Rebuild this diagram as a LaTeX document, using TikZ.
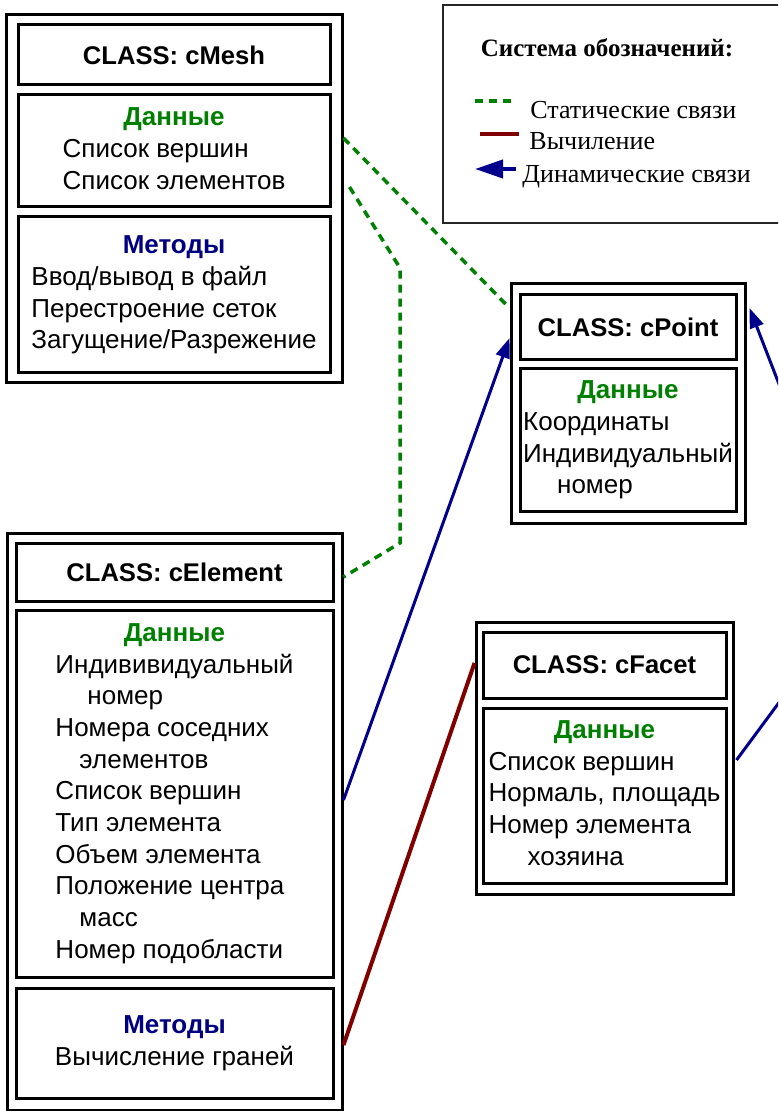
\documentclass[tikz,border=0pt]{standalone}
\usepackage{fontspec}
\setmainfont{Liberation Sans}
\newfontfamily\legendfont{Liberation Serif}
\usetikzlibrary{arrows.meta}

\definecolor{datagreen}{RGB}{0,128,0}
\definecolor{methblue}{RGB}{0,0,128}
\definecolor{calcred}{RGB}{128,0,0}
\definecolor{linkblue}{RGB}{0,0,140}

% title line centred, member lines flush left under it
\newcommand{\memberlist}[3]{\begin{tabular}{@{}l@{}}\multicolumn{1}{@{}c@{}}{\textbf{\color{#2}#1}}\\#3\end{tabular}}

\begin{document}
\begin{tikzpicture}[x=0.5pt,y=-0.5pt,
    classbox/.style={draw, line width=1.5pt, inner sep=0pt},
    part/.style={draw, line width=1.5pt, inner sep=0pt, font=\fontsize{13}{15.85}\selectfont},
    headpart/.style={part, font=\fontsize{12.8}{15}\selectfont\bfseries},
    legtext/.style={inner sep=0pt, anchor=west, font=\legendfont\fontsize{13}{15}\selectfont},
    staticlink/.style={datagreen, line width=1.75pt, dash pattern=on 4pt off 3pt},
    calclink/.style={calcred, line width=2pt},
    dynlink/.style={linkblue, line width=1.5pt, -{Triangle[length=10pt,width=7pt]}}]
    \useasboundingbox (0,0) rectangle (778,1111);
    \clip (0,0) rectangle (778,1111);

    % legend
    \node[draw=black!85, line width=0.6pt, minimum width=176pt, minimum height=109pt] (legend) at (619,114) {};
    \node[inner sep=0pt, font=\legendfont\fontsize{12.5}{15}\selectfont\bfseries] (legtitle) at (607,48) {Система обозначений:};
    \draw[staticlink] (475,101) -- (512,101);
    \node[legtext] (legstatic) at (530,110) {Статические связи};
    \draw[calclink] (480,134) -- (519,134);
    \node[legtext] (legcalc) at (529,141) {Вычиление};
    \draw[linkblue, line width=2pt, -{Triangle[length=14pt,width=9pt]}] (516,169) -- (475,169);
    \node[legtext] (legdyn) at (522,177) {Динамические связи};

    % cMesh
    \node[classbox, minimum width=168pt, minimum height=184pt] (mesh) at (174,199) {};
    \node[headpart, minimum width=156pt, minimum height=30pt] (meshhead) at (174,55) {CLASS: cMesh};
    \node[part, minimum width=156pt, minimum height=56pt] (meshdata) at (174,151)
        {\memberlist{Данные}{datagreen}{Список вершин\\Список элементов}};
    \node[part, minimum width=156pt, minimum height=78pt] (meshmeth) at (174,295)
        {\memberlist{Методы}{methblue}{Ввод/вывод в файл\\Перестроение сеток\\Загущение/Разрежение}};

    % cElement
    \node[classbox, minimum width=167.5pt, minimum height=288.5pt] (elem) at (174.5,821.5) {};
    \node[headpart, minimum width=158.5pt, minimum height=29pt] (elemhead) at (174.5,572) {CLASS: cElement};
    \node[part, minimum width=158.5pt, minimum height=183.5pt] (elemdata) at (174.5,793.5)
        {\memberlist{Данные}{datagreen}{Индививидуальный\\\hspace*{16pt}номер\\Номера соседних\\\hspace*{12pt}элементов\\Список вершин\\Тип элемента\\Объем элемента\\Положение центра\\\hspace*{12pt}масс\\Номер подобласти}};
    \node[part, minimum width=158.5pt, minimum height=55pt] (elemmeth) at (174.5,1043)
        {\memberlist{Методы}{methblue}{Вычисление граней}};

    % cPoint
    \node[classbox, minimum width=117pt, minimum height=119.5pt] (point) at (628,403.5) {};
    \node[headpart, minimum width=108pt, minimum height=32.5pt] (pointhead) at (628,327.5) {CLASS: cPoint};
    \node[part, minimum width=108pt, minimum height=71pt] (pointdata) at (628,440)
        {\memberlist{Данные}{datagreen}{Координаты\\Индивидуальный\\\hspace*{17pt}номер}};

    % cFacet
    \node[classbox, minimum width=128.5pt, minimum height=136pt] (facet) at (604.5,758) {};
    \node[headpart, minimum width=121.5pt, minimum height=33pt] (facethead) at (604.5,665) {CLASS: cFacet};
    \node[part, minimum width=121.5pt, minimum height=87.5pt] (facetdata) at (604.5,795.5)
        {\memberlist{Данные}{datagreen}{Список вершин\\Нормаль, площадь\\Номер элемента\\\hspace*{19.5pt}хозяина}};

    % links
    \coordinate (bendtop) at (400,268);
    \coordinate (bendlow) at (400,543);
    \coordinate (offright) at (860,593);
    \draw[staticlink] ([yshift=30.5pt]mesh.east) -- ([xshift=-1.5pt,yshift=49.25pt]point.west);
    \draw[staticlink] ([xshift=3pt,yshift=6pt]mesh.east) -- (bendtop) -- (bendlow) -- ([yshift=122.25pt]elem.east);
    \draw[dynlink] ([yshift=10.75pt]elem.east) -- ([yshift=32.75pt]point.west);
    \draw[calclink] ([yshift=-111.75pt]elem.east) -- ([yshift=47.5pt]facet.west);
    \draw[linkblue, line width=1.5pt] (offright) -- ([xshift=1pt,yshift=-1pt]facet.east);
    \draw[dynlink] (offright) -- ([xshift=1.5pt,yshift=47.75pt]point.east);
\end{tikzpicture}
\end{document}
